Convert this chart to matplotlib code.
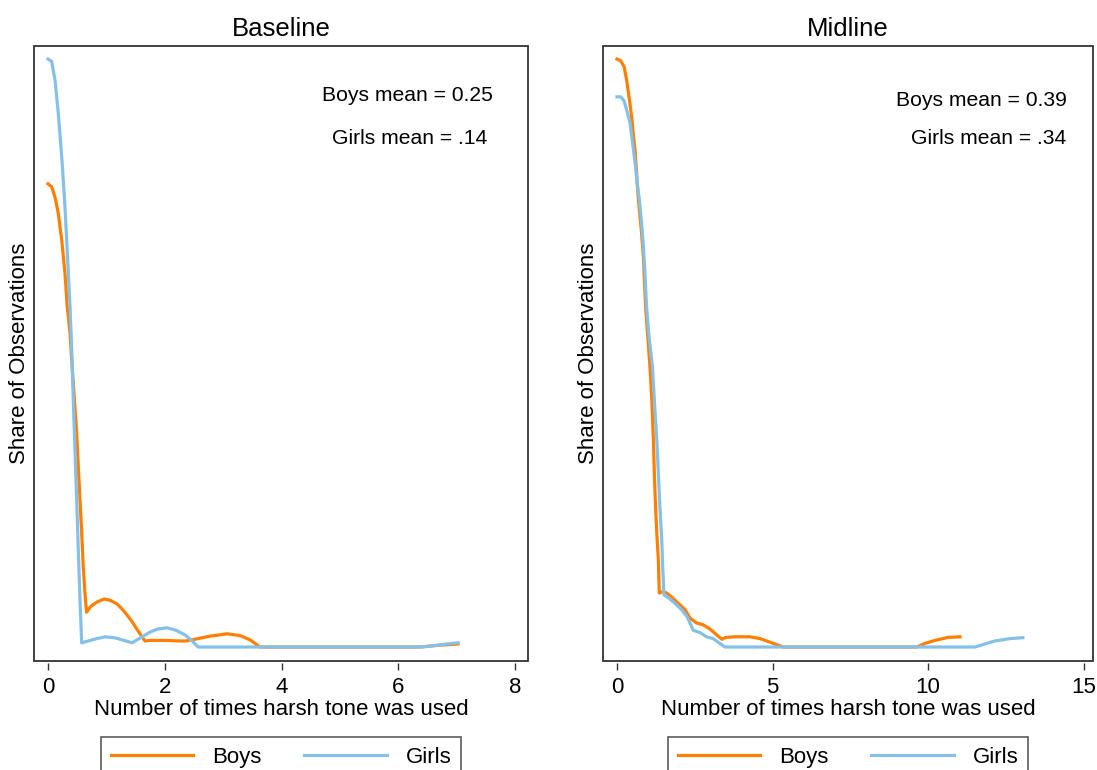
import matplotlib
matplotlib.use("Agg")
import matplotlib.pyplot as plt
from matplotlib.patches import Rectangle

plt.rcParams['font.family'] = ['Liberation Sans', 'DejaVu Sans']

# ---------------- data (kernel density traces) ----------------
base_boys_x = [0.00, 0.063, 0.12, 0.176, 0.235, 0.291, 0.33, 0.377, 0.433, 0.491, 0.519, 0.548,
               0.577, 0.604, 0.634, 0.66, 0.736, 0.84, 0.96, 1.06, 1.18, 1.30, 1.42, 1.52, 1.61,
               1.66, 1.75, 2.0, 2.26, 2.36, 2.52, 2.77, 3.07, 3.29, 3.46, 3.63, 6.37, 6.71, 7.02]
base_boys_y = [0.772, 0.767, 0.75, 0.723, 0.678, 0.623, 0.567, 0.523, 0.44, 0.357, 0.30, 0.245,
               0.19, 0.133, 0.088, 0.058, 0.068, 0.075, 0.08, 0.078, 0.072, 0.06, 0.045, 0.03, 0.017,
               0.01, 0.011, 0.011, 0.010, 0.010, 0.013, 0.018, 0.022, 0.019, 0.012, 0.0, 0.0, 0.003, 0.005]

base_girls_x = [0.00, 0.063, 0.12, 0.176, 0.235, 0.262, 0.291, 0.32, 0.348, 0.377, 0.406, 0.433,
                0.462, 0.491, 0.519, 0.548, 0.577, 0.834, 0.99, 1.16, 1.30, 1.44, 1.63, 1.75, 1.88,
                2.04, 2.19, 2.35, 2.47, 2.57, 6.40, 6.63, 6.82, 7.02]
base_girls_y = [0.980, 0.976, 0.945, 0.890, 0.817, 0.778, 0.733, 0.678, 0.623, 0.567, 0.495, 0.412,
                0.328, 0.245, 0.162, 0.078, 0.007, 0.014, 0.017, 0.015, 0.011, 0.007, 0.018, 0.025, 0.030,
                0.032, 0.028, 0.020, 0.010, 0.0, 0.0, 0.0025, 0.005, 0.007]

mid_boys_x = [0.0, 0.12, 0.23, 0.31, 0.40, 0.47, 0.52, 0.58, 0.63, 0.68, 0.74, 0.79, 0.85, 0.88,
              0.92, 0.99, 1.06, 1.12, 1.17, 1.20, 1.24, 1.28, 1.33, 1.36, 1.45, 1.60, 1.76, 1.97,
              2.19, 2.35, 2.56, 2.77, 2.99, 3.21, 3.37, 3.50, 3.79, 4.28, 4.60, 4.92, 5.34, 9.65,
              9.90, 10.23, 10.64, 11.03]
mid_boys_y = [0.98, 0.977, 0.967, 0.945, 0.912, 0.884, 0.857, 0.828, 0.79, 0.75, 0.717, 0.69, 0.65,
              0.612, 0.567, 0.517, 0.467, 0.412, 0.345, 0.29, 0.233, 0.19, 0.145, 0.09, 0.092, 0.09,
              0.083, 0.073, 0.062, 0.048, 0.04, 0.037, 0.03, 0.02, 0.013, 0.016, 0.017, 0.017, 0.014,
              0.008, 0.0, 0.0, 0.006, 0.011, 0.016, 0.017]

mid_girls_x = [0.0, 0.12, 0.23, 0.31, 0.42, 0.49, 0.58, 0.65, 0.72, 0.79, 0.85, 0.90, 0.95, 1.03,
               1.14, 1.20, 1.28, 1.33, 1.38, 1.44, 1.47, 1.51, 1.65, 1.86, 2.08, 2.26, 2.45, 2.67,
               2.88, 3.09, 3.28, 3.47, 11.51, 11.83, 12.15, 12.64, 13.05]
mid_girls_y = [0.917, 0.917, 0.91, 0.895, 0.873, 0.845, 0.807, 0.773, 0.745, 0.707, 0.667, 0.623,
               0.567, 0.517, 0.467, 0.412, 0.345, 0.29, 0.233, 0.178, 0.133, 0.087, 0.082, 0.073,
               0.062, 0.05, 0.028, 0.024, 0.017, 0.014, 0.007, 0.0, 0.0, 0.005, 0.01, 0.014, 0.0155]

panel_titles = ["Baseline", "Midline"]
boys_means = ["Boys mean = 0.25", "Boys mean = 0.39"]
girls_means = ["Girls mean = .14", "Girls mean = .34"]
base_ticks = [0, 2, 4, 6, 8]
mid_ticks = [0, 5, 10, 15]
series_labels = ["Boys", "Girls"]

ORANGE = "#FF7F00"
BLUE = "#85C0E9"
FRAME = "#333333"

W, H = 1097, 770
fig = plt.figure(figsize=(W / 100, H / 100), dpi=100)


def px_axes(l, r, t, b):
    return fig.add_axes([l / W, 1 - b / H, (r - l) / W, (b - t) / H])


def panel(ax, title, bx, by, gx, gy, ticks, xlim, boys_txt, girls_txt, tpos, ylab_x):
    ax.plot(bx, by, color=ORANGE, lw=2.3, label=series_labels[0], solid_joinstyle='round')
    ax.plot(gx, gy, color=BLUE, lw=2.3, label=series_labels[1], solid_joinstyle='round')
    ax.set_xlim(*xlim)
    ax.set_ylim(-14 / 600, 601 / 600)
    ax.set_xticks(ticks)
    ax.set_yticks([])
    for s in ax.spines.values():
        s.set_visible(False)
    ax.spines['bottom'].set_position(('outward', 1.5))
    ax.add_patch(Rectangle((0, 0), 1, 1, transform=ax.transAxes, fill=False,
                           edgecolor=FRAME, lw=1.3, clip_on=False, zorder=5))
    ax.tick_params(axis='x', direction='out', length=5, width=1, color=FRAME,
                   labelsize=16, pad=5)
    ax.set_xlabel("Number of times harsh tone was used", fontsize=16, labelpad=1)
    ax.set_ylabel("Share of Observations", fontsize=16)
    ax.yaxis.set_label_coords(ylab_x, 0.5)
    ax.set_title(title, fontsize=18.5, pad=7)
    ax.text(tpos[0], tpos[1], boys_txt, transform=ax.transAxes, ha='center', va='center', fontsize=15.2)
    ax.text(tpos[2], tpos[3], girls_txt, transform=ax.transAxes, ha='center', va='center', fontsize=15.2)
    leg = ax.legend(loc='upper center', bbox_to_anchor=(0.5, -0.1236), ncol=2, fontsize=16,
                    frameon=True, fancybox=False, handlelength=3.7, handletextpad=0.85,
                    columnspacing=1.94, borderpad=0.45, borderaxespad=0)
    leg.get_frame().set_edgecolor(FRAME)
    leg.get_frame().set_linewidth(1.2)


ax1 = px_axes(34, 528, 46, 661)
panel(ax1, panel_titles[0], base_boys_x, base_boys_y, base_girls_x, base_girls_y,
      base_ticks, ((34 - 48) / 58.4, (528 - 48) / 58.4), boys_means[0], girls_means[0],
      (0.755, 0.920, 0.761, 0.850), -0.009)

ax2 = px_axes(603, 1093, 46, 661)
panel(ax2, panel_titles[1], mid_boys_x, mid_boys_y, mid_girls_x, mid_girls_y,
      mid_ticks, ((603 - 617) / 31.1, (1093 - 617) / 31.1), boys_means[1], girls_means[1],
      (0.773, 0.912, 0.788, 0.849), -0.008)

fig.savefig("out.png", dpi=100)
